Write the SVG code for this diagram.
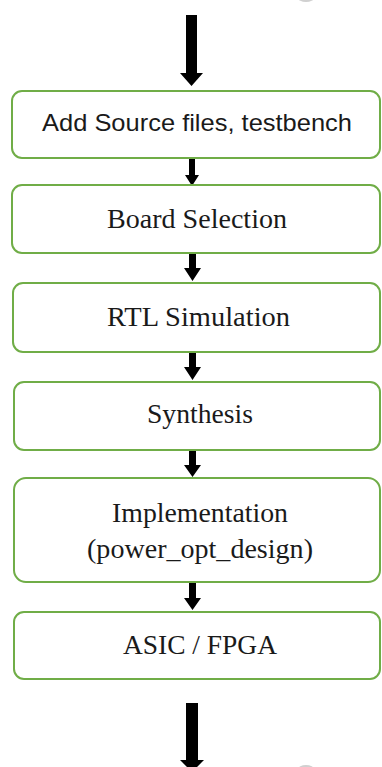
<svg xmlns="http://www.w3.org/2000/svg" width="382" height="767" viewBox="0 0 382 767">
<style>
.box{fill:#fff;stroke:#70AD47;stroke-width:2}
.serif{font-family:"Liberation Serif","Times New Roman",serif;font-size:27px;fill:#1a1a1a;text-anchor:middle}
.sans{font-family:"Liberation Sans",Arial,sans-serif;font-size:24px;fill:#1a1a1a;text-anchor:middle}
.arr{fill:#000}
</style>
<rect width="382" height="767" fill="#fff"/>
<ellipse cx="306" cy="-2" rx="8" ry="4" fill="#d0d0d0"/>
<ellipse cx="306" cy="769" rx="8" ry="4" fill="#d0d0d0"/>
<g id="connectors">
<polygon class="arr" points="186,15 197,15 197,73 203,73 191.5,86 180,73 186,73"/>
<polygon class="arr" points="189,159 195,159 195,175 199,175 192,186 185,175 189,175"/>
<polygon class="arr" points="189,254 196,254 196,268 201,268 192.5,281 184,268 189,268"/>
<polygon class="arr" points="189,353 196,353 196,367 201,367 192.5,380 184,367 189,367"/>
<polygon class="arr" points="189,451 196,451 196,465 201,465 192.5,477 184,465 189,465"/>
<polygon class="arr" points="189,583 196,583 196,598 201,598 192.5,610 184,598 189,598"/>
<polygon class="arr" points="186,703 198,703 198,760 204,760 192,772 180,760 186,760"/>
</g>
<g id="n1"><rect class="box" x="12" y="91" width="368" height="67" rx="10"/><text class="sans" x="197" y="131" textLength="310" lengthAdjust="spacingAndGlyphs">Add Source files, testbench</text></g>
<g id="n2"><rect class="box" x="12" y="185" width="368" height="68" rx="10"/><text class="serif" x="197" y="228" textLength="180" lengthAdjust="spacingAndGlyphs">Board Selection</text></g>
<g id="n3"><rect class="box" x="13" y="283" width="367" height="69" rx="10"/><text class="serif" x="198.5" y="326" textLength="183" lengthAdjust="spacingAndGlyphs">RTL Simulation</text></g>
<g id="n4"><rect class="box" x="14" y="382" width="366" height="68" rx="10"/><text class="serif" x="200" y="423" textLength="106" lengthAdjust="spacingAndGlyphs">Synthesis</text></g>
<g id="n5"><rect class="box" x="14" y="478" width="366" height="104" rx="12"/><text class="serif" x="200" y="522" textLength="176" lengthAdjust="spacingAndGlyphs">Implementation</text><text class="serif" x="200" y="558" textLength="226" lengthAdjust="spacingAndGlyphs">(power_opt_design)</text></g>
<g id="n6"><rect class="box" x="14" y="612" width="366" height="67" rx="10"/><text class="serif" x="200" y="654" textLength="154" lengthAdjust="spacingAndGlyphs">ASIC / FPGA</text></g>
</svg>
